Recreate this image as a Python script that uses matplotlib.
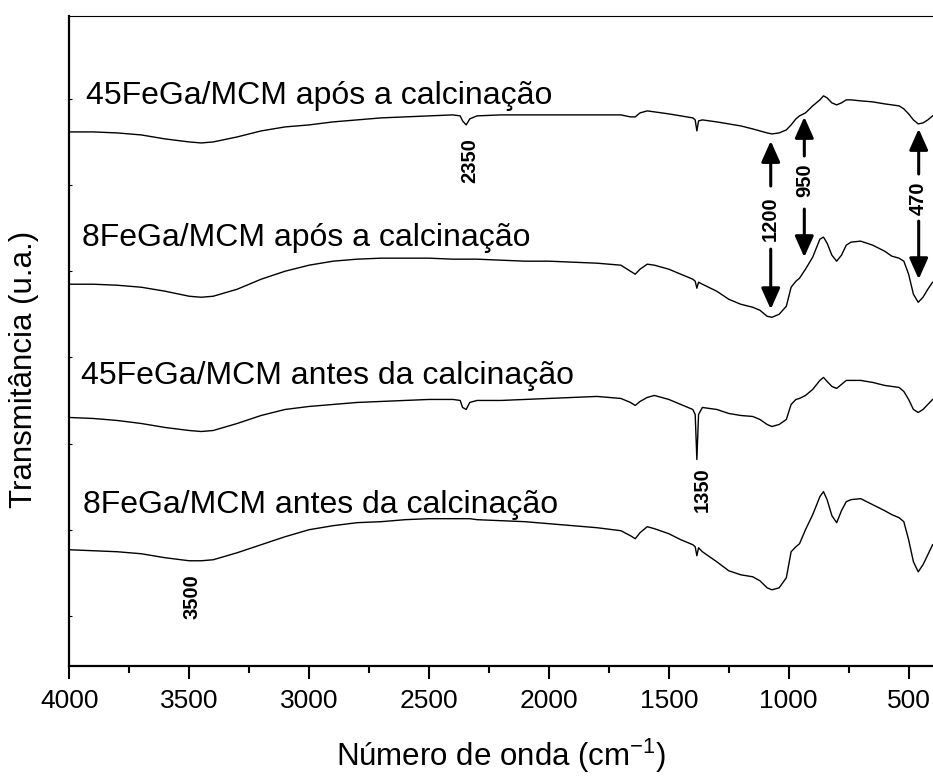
import numpy as np
import matplotlib as mpl
import matplotlib.pyplot as plt

mpl.use('agg')

plt.rcParams['font.family'] = ['Liberation Sans', 'DejaVu Sans']
plt.rcParams['mathtext.fontset'] = 'custom'
plt.rcParams['mathtext.rm'] = 'Liberation Sans'

# wavenumber grid (cm-1)
wn = [4000, 3900, 3800, 3700, 3600, 3500, 3450, 3400, 3300, 3200, 3100, 3000,
      2900, 2800, 2700, 2600, 2500, 2400, 2370, 2360, 2345, 2330, 2300, 2200,
      2100, 2000, 1900, 1800, 1700, 1660, 1640, 1620, 1590, 1560, 1500, 1450,
      1400, 1390, 1383, 1376, 1360, 1300, 1250, 1200, 1150, 1120, 1090, 1070,
      1040, 1010, 990, 970, 955, 930, 900, 870, 855, 840, 820, 800, 780, 760,
      740, 700, 650, 600, 570, 540, 520, 500, 480, 460, 440, 420, 400]

# transmittance (u.a.), spectra already offset as in the figure
t_45_apos = [5.33, 5.33, 5.32, 5.30, 5.26, 5.23, 5.22, 5.23, 5.28, 5.34, 5.38, 5.40,
             5.43, 5.45, 5.47, 5.48, 5.49, 5.50, 5.49, 5.44, 5.40, 5.46, 5.49, 5.50,
             5.50, 5.50, 5.50, 5.50, 5.50, 5.48, 5.48, 5.52, 5.54, 5.53, 5.51, 5.49,
             5.47, 5.45, 5.34, 5.44, 5.45, 5.43, 5.41, 5.39, 5.36, 5.34, 5.32, 5.31,
             5.32, 5.35, 5.40, 5.46, 5.49, 5.52, 5.59, 5.65, 5.69, 5.67, 5.62, 5.60,
             5.62, 5.65, 5.65, 5.64, 5.63, 5.61, 5.60, 5.59, 5.56, 5.51, 5.45, 5.41,
             5.42, 5.45, 5.49]
t_8_apos = [3.81, 3.81, 3.80, 3.78, 3.74, 3.69, 3.68, 3.69, 3.76, 3.86, 3.94, 4.00,
            4.04, 4.06, 4.07, 4.07, 4.07, 4.06, 4.06, 4.06, 4.06, 4.06, 4.06, 4.05,
            4.04, 4.04, 4.03, 4.02, 4.00, 3.94, 3.91, 3.96, 4.01, 4.00, 3.96, 3.91,
            3.86, 3.84, 3.77, 3.83, 3.81, 3.74, 3.66, 3.61, 3.58, 3.55, 3.49, 3.48,
            3.51, 3.59, 3.78, 3.84, 3.87, 3.96, 4.08, 4.26, 4.28, 4.22, 4.10, 4.04,
            4.10, 4.20, 4.23, 4.24, 4.20, 4.14, 4.09, 4.07, 4.04, 3.91, 3.71, 3.63,
            3.68, 3.76, 3.83]
t_45_antes = [2.48, 2.47, 2.45, 2.42, 2.38, 2.35, 2.34, 2.35, 2.42, 2.50, 2.56, 2.59,
              2.61, 2.63, 2.64, 2.65, 2.66, 2.66, 2.65, 2.58, 2.56, 2.63, 2.65, 2.65,
              2.66, 2.67, 2.68, 2.69, 2.67, 2.63, 2.60, 2.64, 2.68, 2.70, 2.66, 2.61,
              2.56, 2.51, 2.06, 2.51, 2.58, 2.56, 2.52, 2.50, 2.49, 2.46, 2.41, 2.39,
              2.41, 2.46, 2.61, 2.66, 2.67, 2.70, 2.76, 2.85, 2.88, 2.84, 2.79, 2.77,
              2.81, 2.85, 2.85, 2.85, 2.83, 2.80, 2.79, 2.78, 2.74, 2.66, 2.56, 2.53,
              2.56, 2.61, 2.66]
t_8_antes = [1.16, 1.15, 1.14, 1.12, 1.08, 1.05, 1.05, 1.06, 1.13, 1.21, 1.29, 1.36,
             1.40, 1.43, 1.44, 1.46, 1.47, 1.47, 1.47, 1.47, 1.47, 1.47, 1.46, 1.45,
             1.44, 1.42, 1.40, 1.38, 1.35, 1.30, 1.27, 1.33, 1.39, 1.37, 1.32, 1.26,
             1.21, 1.19, 1.10, 1.18, 1.14, 1.04, 0.95, 0.91, 0.89, 0.85, 0.78, 0.76,
             0.78, 0.88, 1.14, 1.19, 1.22, 1.36, 1.51, 1.69, 1.74, 1.66, 1.50, 1.43,
             1.55, 1.64, 1.66, 1.67, 1.61, 1.55, 1.51, 1.48, 1.44, 1.26, 1.04, 0.94,
             1.01, 1.11, 1.21]

series = [t_45_apos, t_8_apos, t_45_antes, t_8_antes]
labels = ['45FeGa/MCM após a calcinação', '8FeGa/MCM após a calcinação',
          '45FeGa/MCM antes da calcinação', '8FeGa/MCM antes da calcinação']
label_pos = [(3930, 5.61), (3947, 4.19), (3951, 2.81), (3943, 1.53)]

# simple band labels: (text, wavenumber, y centre)
bands = [('3500', 3490, 0.69), ('2350', 2329, 5.04), ('1350', 1362, 1.76)]
# double-arrow bands: (text, wavenumber, text y, up from, up to, down from, down to)
arrows = [('1200', 1075, 4.465, 4.79, 5.24, 4.16, 3.56),
          ('950', 935, 4.845, 5.09, 5.48, 4.56, 4.08),
          ('470', 458, 4.665, 4.91, 5.36, 4.44, 3.86)]

fig = plt.figure(figsize=(9.33, 7.77), dpi=100)
ax = fig.add_axes([69.3 / 933, 0.1429, 863.3 / 933, 0.8369])

for t in series:
    ax.plot(wn, t, color='k', lw=1.0)

for lab, (x, y) in zip(labels, label_pos):
    ax.text(x, y, lab, fontsize=23, ha='left', va='baseline')

for txt, x, y in bands:
    ax.text(x, y, txt, fontsize=14.5, fontweight='bold', rotation=90,
            ha='center', va='center')

astyle = dict(arrowstyle='-|>,head_length=0.85,head_width=0.38', mutation_scale=15,
              lw=2.2, color='k', shrinkA=0, shrinkB=0)
for txt, x, ty, u0, u1, d0, d1 in arrows:
    ax.annotate('', xy=(x, u1), xytext=(x, u0), arrowprops=astyle)
    ax.annotate('', xy=(x, d1), xytext=(x, d0), arrowprops=astyle)
    ax.text(x, ty, txt, fontsize=14.5, fontweight='bold', rotation=90,
            ha='center', va='center')

ax.set_xlim(4000, 400)
ax.set_ylim(0, 6.49)
ax.set_xticks([4000, 3500, 3000, 2500, 2000, 1500, 1000, 500])
ax.set_xticks(np.arange(3750, 400, -500), minor=True)
ax.tick_params(axis='x', which='major', direction='out', length=9.5, width=1.5,
               labelsize=19, pad=7)
ax.tick_params(axis='x', which='minor', direction='out', length=5.3, width=1.5)
ax.set_yticks(np.arange(0.5, 6.5, 0.86))
ax.tick_params(axis='y', which='major', direction='in', length=2, width=0.8,
               labelleft=False)

ax.spines['right'].set_visible(False)
ax.spines['left'].set_linewidth(1.6)
ax.spines['bottom'].set_linewidth(1.6)
ax.spines['top'].set_linewidth(0.8)

fig.text(24 / 933, 0.524, 'Transmitância (u.a.)', fontsize=22.5, rotation=90,
         ha='center', va='center')
fig.text(0.537, 0.027, 'Número de onda (cm$^{-1}$)', fontsize=22.5,
         ha='center', va='center')

fig.savefig('out.png', dpi=100)
